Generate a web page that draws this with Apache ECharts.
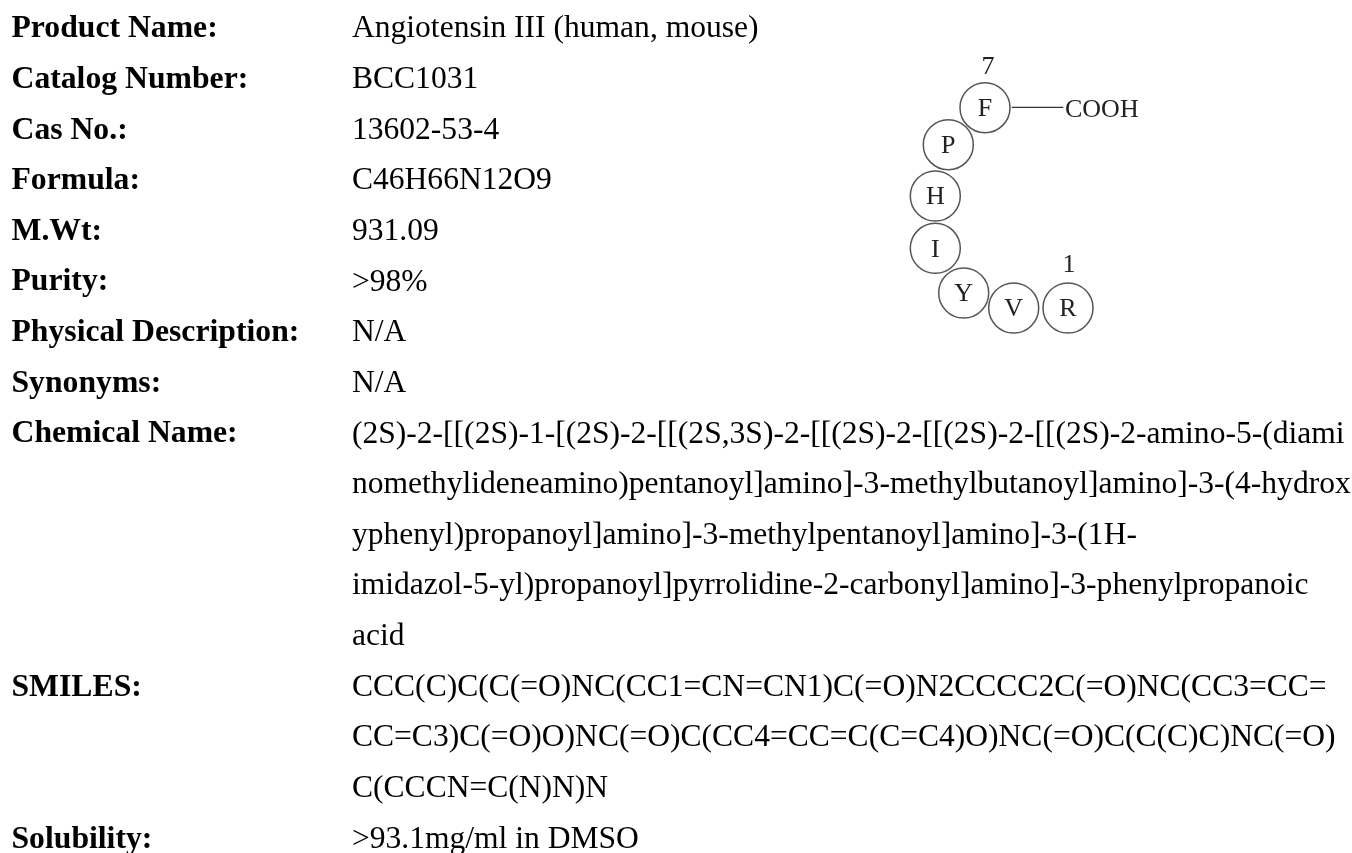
<!DOCTYPE html>
<html lang="en">
<head>
<meta charset="UTF-8">
<title>Angiotensin III (human, mouse)</title>
<script src="https://cdn.jsdelivr.net/npm/echarts@6/dist/echarts.min.js"></script>
<style>
html, body { margin: 0; padding: 0; background: #fff; overflow: hidden; }
#main { width: 1352px; height: 853px; }
</style>
</head>
<body>
<div id="main"></div>
<script>
const fieldNames = ['Product Name:', 'Catalog Number:', 'Cas No.:', 'Formula:', 'M.Wt:', 'Purity:', 'Physical Description:', 'Synonyms:', 'Chemical Name:', 'SMILES:', 'Solubility:'];
const fieldRows = [0, 1, 2, 3, 4, 5, 6, 7, 8, 13, 16];
const valueLines = [
  'Angiotensin III (human, mouse)',
  'BCC1031',
  '13602-53-4',
  'C46H66N12O9',
  '931.09',
  '>98%',
  'N/A',
  'N/A',
  '(2S)-2-[[(2S)-1-[(2S)-2-[[(2S,3S)-2-[[(2S)-2-[[(2S)-2-[[(2S)-2-amino-5-(diami',
  'nomethylideneamino)pentanoyl]amino]-3-methylbutanoyl]amino]-3-(4-hydrox',
  'yphenyl)propanoyl]amino]-3-methylpentanoyl]amino]-3-(1H-',
  'imidazol-5-yl)propanoyl]pyrrolidine-2-carbonyl]amino]-3-phenylpropanoic',
  'acid',
  'CCC(C)C(C(=O)NC(CC1=CN=CN1)C(=O)N2CCCC2C(=O)NC(CC3=CC=',
  'CC=C3)C(=O)O)NC(=O)C(CC4=CC=C(C=C4)O)NC(=O)C(C(C)C)NC(=O)',
  'C(CCCN=C(N)N)N',
  '>93.1mg/ml in DMSO'
];

// peptide ring
const residues = ['F', 'P', 'H', 'I', 'Y', 'V', 'R'];
const residueX = [985, 948.3, 935.3, 935.3, 963.7, 1013.7, 1068];
const residueY = [107.7, 144.7, 196, 248.3, 293, 308, 308];
const numberLabels = ['7', '1'];
const numberX = [988, 1069];
const numberY = [67.5, 265.5];
const bondX = [1011.7, 1063.3];
const bondY = [107.3, 107.3];
const tailLabel = 'COOH';
const tailX = 1065;
const tailY = 110;

const serif = '"Liberation Serif", "Times New Roman", serif';
const labelX = 11.5;
const valueX = 352;

const chart = echarts.init(document.getElementById('main'), null, { renderer: 'canvas' });

function hiddenAxis(min, max, inverse) {
  return { type: 'value', min: min, max: max, inverse: inverse, show: false };
}

// scatter defaults to 0.8 opacity, which also greys the labels
function textSeries(axisIndex, data, position, fontSize, fontWeight, color) {
  return {
    type: 'scatter',
    xAxisIndex: axisIndex,
    yAxisIndex: axisIndex,
    symbolSize: 0,
    silent: true,
    itemStyle: { opacity: 1 },
    data: data,
    label: {
      show: true,
      position: position,
      distance: 0,
      formatter: '{b}',
      fontFamily: serif,
      fontWeight: fontWeight,
      fontSize: fontSize,
      color: color
    }
  };
}

const option = {
  animation: false,
  backgroundColor: '#ffffff',
  grid: [
    { left: 0, top: 0, width: 1352, height: 853 },
    { left: 0, top: 0, width: 1352, height: 853 }
  ],
  xAxis: [hiddenAxis(0, 1352, false), hiddenAxis(0, 1352, false)],
  // rows are 50.65px apart, first row centred at 27px
  yAxis: [hiddenAxis(-27 / 50.65, (853 - 27) / 50.65, true), hiddenAxis(0, 853, true)],
  series: [
    textSeries(0, fieldNames.map((name, i) => ({ name: name, value: [labelX, fieldRows[i] + 0.04] })), 'right', 31.7, 'bold', '#000'),
    textSeries(0, valueLines.map((line, i) => ({ name: line, value: [valueX, i + 0.04] })), 'right', 31.55, 'normal', '#000'),
    {
      type: 'line',
      xAxisIndex: 1,
      yAxisIndex: 1,
      silent: true,
      symbol: 'none',
      data: bondX.map((x, i) => [x, bondY[i]]),
      lineStyle: { color: '#333', width: 1.2 }
    },
    {
      type: 'scatter',
      xAxisIndex: 1,
      yAxisIndex: 1,
      symbolSize: 50,
      silent: true,
      data: residues.map((r, i) => ({ name: r, value: [residueX[i], residueY[i]] })),
      itemStyle: { color: 'rgba(255,255,255,0)', borderColor: '#555', borderWidth: 1.5, opacity: 1 },
      label: {
        show: true,
        position: 'inside',
        offset: [0, 1.5],
        formatter: '{b}',
        fontFamily: serif,
        fontSize: 26,
        color: '#222'
      }
    },
    textSeries(1, numberLabels.map((n, i) => ({ name: n, value: [numberX[i], numberY[i]] })), 'inside', 26, 'normal', '#222'),
    textSeries(1, [{ name: tailLabel, value: [tailX, tailY] }], 'right', 26, 'normal', '#222')
  ]
};

chart.setOption(option);
</script>
</body>
</html>
